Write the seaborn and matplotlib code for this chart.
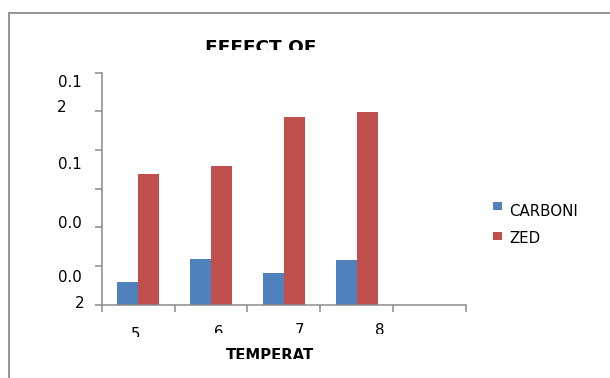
import numpy as np
import pandas as pd
import matplotlib
matplotlib.use("Agg")
import matplotlib.pyplot as plt
from matplotlib.transforms import Bbox
from matplotlib.patches import Rectangle
from matplotlib.lines import Line2D
import seaborn as sns

# ---- data ----
temperatures = ["5", "6", "7", "8"]
carboni = [0.0119, 0.0237, 0.0163, 0.0230]
zed = [0.0676, 0.0718, 0.0973, 0.0995]
series_names = ["CARBONI", "ZED"]
series_colors = ["#4F81BD", "#C0504D"]
y_tick_values = [0.0, 0.02, 0.04, 0.06, 0.08, 0.10, 0.12]
y_label_texts = ["0.1", "2", "0.1", "0.0", "0.0", "2"]
title_text = "EFFECT OF"
xlabel_text = "TEMPERAT"

df = pd.DataFrame({
    "temp": temperatures * 2,
    "value": carboni + zed,
    "series": [series_names[0]] * len(temperatures) + [series_names[1]] * len(temperatures),
})

W, H = 610, 378
sns.set_style("white")
plt.rcParams["font.family"] = ["DejaVu Sans"]
plt.rcParams["text.color"] = "black"

fig = plt.figure(figsize=(W / 100, H / 100), dpi=100)
fig.patch.set_facecolor("white")


def fx(x):
    return x / W


def fy(y):
    return 1 - y / H


# plot area in pixel terms
left, right, top, bottom = 101.7, 466.0, 72.7, 304.8
ax = fig.add_axes([fx(left), fy(bottom), (right - left) / W, (bottom - top) / H])

sns.barplot(
    data=df, x="temp", y="value", hue="series", order=temperatures,
    hue_order=series_names, palette=dict(zip(series_names, series_colors)),
    saturation=1, width=0.575, dodge=True, linewidth=0, legend=False, ax=ax,
)

ax.set_xlim(-0.5, len(temperatures) + 0.5)
ax.set_ylim(y_tick_values[0], y_tick_values[-1])
ax.set_xticks(np.arange(-0.5, len(temperatures) + 1, 1))
ax.set_xticklabels([])
ax.set_yticks(y_tick_values)
ax.set_yticklabels([])
ax.set_xlabel("")
ax.set_ylabel("")

axis_gray = "#8a8a8a"
for side in ("top", "right"):
    ax.spines[side].set_visible(False)
for side in ("left", "bottom"):
    ax.spines[side].set_color(axis_gray)
    ax.spines[side].set_linewidth(1.1)
ax.tick_params(axis="both", direction="out", length=5, width=1.1, color=axis_gray,
               bottom=True, left=True)
ax.patch.set_alpha(0)


def clipped_text(x, baseline, s, clip_top, clip_bottom, **kw):
    t = fig.text(fx(x), fy(baseline), s, va="baseline", color="black", **kw)
    t.set_clip_box(Bbox.from_extents(0, H - clip_bottom, W, H - clip_top))
    t.set_clip_on(True)
    return t


fs = 10.8
# y axis labels (wrapped, partly hidden)
ylab_pos = [(82, 87, "right"), (57, 112.5, "left"), (82, 169.5, "right"),
            (82, 227.5, "right"), (82, 281.5, "right"), (84, 308.5, "right")]
for s, (x, base, ha) in zip(y_label_texts, ylab_pos):
    fig.text(fx(x), fy(base), s, ha=ha, va="baseline", fontsize=fs, color="black")

# category labels, cut off below
cat_x = [136, 219, 299, 380]
cat_top = [328.5, 326, 324, 324.5]
cat_clip = [337, 333, 333, 333.5]
for s, x, t, c in zip(temperatures, cat_x, cat_top, cat_clip):
    clipped_text(x, t + 10.9, s, t - 2, c, ha="center", fontsize=fs)

# title and axis title, cut off below
clipped_text(260.5, 39.3 + 13.5, title_text, 30, 50, ha="center",
             fontsize=13.3, fontweight="bold")
clipped_text(270.5, 349.3 + 10.8, xlabel_text, 340, 358.8, ha="center",
             fontsize=10.7, fontweight="bold")

# legend
legend_rows = [(201.7, 216.0), (231.7, 242.6)]
for name, color, (sq_top, base) in zip(series_names, series_colors, legend_rows):
    fig.add_artist(Rectangle((fx(492.7), fy(sq_top + 8.5)), 9 / W, 8.5 / H,
                             transform=fig.transFigure, facecolor=color,
                             edgecolor="none"))
    fig.text(fx(509), fy(base), name, ha="left", va="baseline", fontsize=fs,
             color="black")

# chart area frame
frame_kw = dict(transform=fig.transFigure, color="#8c8c8c", linewidth=1.3)
fig.add_artist(Line2D([fx(9), fx(9)], [fy(13.2), fy(H + 2)], **frame_kw))
fig.add_artist(Line2D([fx(9), fx(W + 2)], [fy(13.2), fy(13.2)], **frame_kw))

fig.savefig("out.png", dpi=100, facecolor="white")
